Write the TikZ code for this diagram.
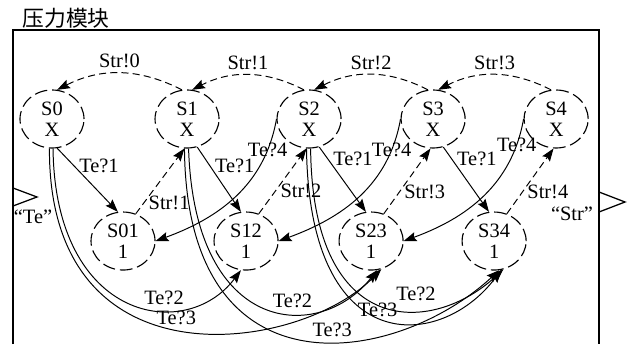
\documentclass[tikz,border=0pt]{standalone}
\usepackage{fontspec}
\setmainfont{Liberation Serif}
\newfontfamily\cjkfont{Noto Sans CJK SC}
\usetikzlibrary{arrows.meta,shapes.geometric,positioning}
\tikzstyle{state}=[draw, ellipse, dash pattern=on 9pt off 3.5pt, line width=.8pt,
  minimum width=1.6cm, minimum height=1.45cm, inner sep=0pt, align=center]
\tikzstyle{msg}=[->, line width=.7pt]
\tikzstyle{sig}=[msg, dash pattern=on 5pt off 3pt]
\tikzstyle{port}=[line width=.9pt]

\begin{document}
\begin{tikzpicture}[x=.025cm, y=.025cm, >={Stealth[length=3.2mm,width=2.3mm,inset=.5mm]},
    on grid, font=\fontsize{14.5}{15}\selectfont]
  \useasboundingbox (0,0) rectangle (634,344);

  % module frame and ports
  \node (title) at (66,326) {\cjkfont\fontsize{15.5}{16}\selectfont 压力模块};
  \draw[line width=1pt] (13,0) -- (13,314) -- (599,314) -- (599,0);
  \draw[port] (13,156) -- (37,147) -- (13,138);
  \draw[port] (599,152) -- (625,142) -- (599,132);
  \node (te) at (33,127) {``Te''};
  \node (str) at (572,130) {``Str''};

  % states
  \node[state] (S0) at (52,225) {S0\\X};
  \node[state, right=3.375cm of S0] (S1) {S1\\X};
  \node[state, right=3.05cm of S1] (S2) {S2\\X};
  \node[state, right=3.1cm of S2] (S3) {S3\\X};
  \node[state, right=3.075cm of S3] (S4) {S4\\X};

  \node[state, below right=3.05cm and 1.775cm of S0] (S01) {S01\\1};
  \node[state, right=3.075cm of S01] (S12) {S12\\1};
  \node[state, right=3.125cm of S12] (S23) {S23\\1};
  \node[state, right=3.075cm of S23] (S34) {S34\\1};

  % Str! arcs on top
  \draw[sig] (S1.100) to[bend right=27] node[above] {Str!0} (S0.80);
  \draw[sig] (S2.100) to[bend right=27] node[above] {Str!1} (S1.80);
  \draw[sig] (S3.100) to[bend right=27] node[above] {Str!2} (S2.80);
  \draw[sig] (S4.100) to[bend right=27] node[above] {Str!3} (S3.80);

  % Te?1 down, Str! back up
  \draw[msg] (S0.-80) -- node[right, pos=.28] {Te?1} (S01.100);
  \draw[msg] (S1.-70) -- node[right, pos=.29] {Te?1} (S12.100);
  \draw[msg] (S2.-70) -- node[right, pos=.19] {Te?1} (S23.100);
  \draw[msg] (S3.-70) -- node[right, pos=.19] {Te?1} (S34.100);
  \draw[sig] (S01.65) -- node[right, pos=.16] {Str!1} (S1.-95);
  \draw[sig] (S12.65) -- node[right, pos=.35] {Str!2} (S2.-95);
  \draw[sig] (S23.65) -- node[right, pos=.33] {Str!3} (S3.-95);
  \draw[sig] (S34.65) -- node[right, pos=.33] {Str!4} (S4.-95);

  % Te?4 from the right neighbour
  \draw[msg] (S2.west) to[out=-100, in=20] node[pos=.17] {Te?4} (S01.east);
  \draw[msg] (S3.west) to[out=-100, in=20] node[pos=.17] {Te?4} (S12.east);
  \draw[msg] (S4.west) to[out=-100, in=20] node[pos=.14] {Te?4} (S23.east);

  % Te?2 and Te?3 round the bottom
  \draw[msg] (S0.-88) .. controls +(2,-173) and +(-55,-73) .. node[pos=.65, above] {Te?2} (S12.-100);
  \draw[msg] (S0.-95) .. controls +(-1,-243) and +(-80,-83) .. node[pos=.48, above] {Te?3} (S23.-70);
  \draw[msg] (S1.-87) .. controls +(6,-188) and +(-58,-73) .. node[pos=.62, above] {Te?2} (S23.-78);
  \draw[msg] (S1.-95) .. controls +(2,-253) and +(-103,-95) .. node[pos=.57, above] {Te?3} (S34.-80);
  \draw[msg] (S2.-87) .. controls +(2,-193) and +(-70,-65) .. node[pos=.64, above=3pt] {Te?2} (S34.-72);
  \draw[msg] (S2.-95) .. controls +(3,-213) and +(-60,-80) .. node[pos=.48, anchor=south, inner sep=0pt] {Te?3} (S34.-76);
\end{tikzpicture}
\end{document}
